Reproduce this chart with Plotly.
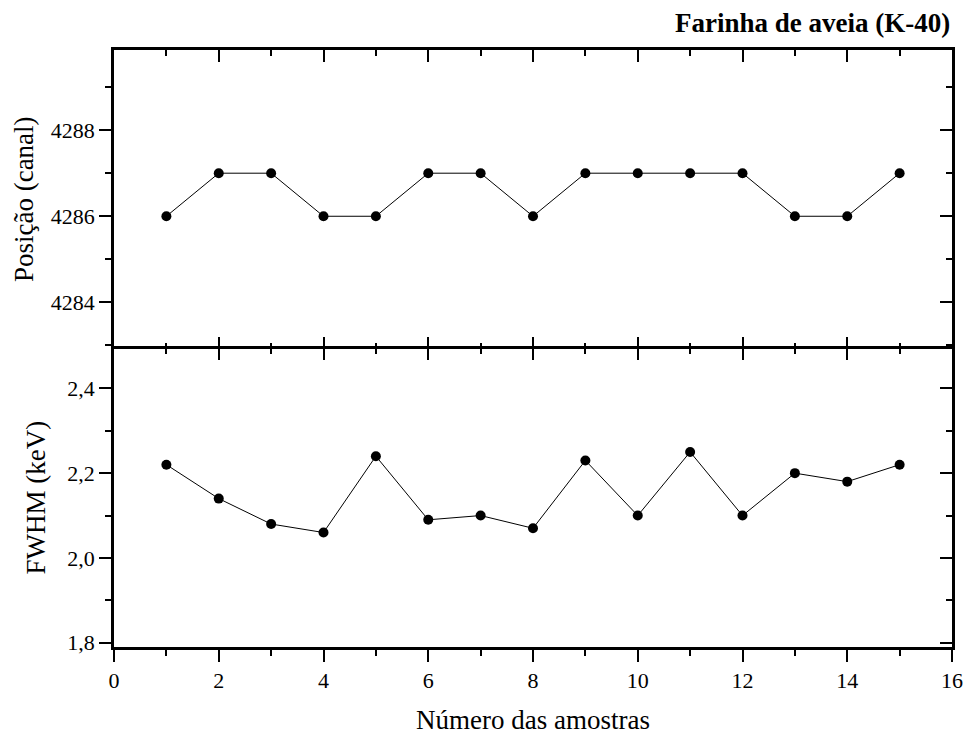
import plotly.graph_objects as go

# Sample numbers and measured values
amostras = list(range(1, 16))
posicao = [4286, 4287, 4287, 4286, 4286, 4287, 4287, 4286, 4287, 4287, 4287, 4287, 4286, 4286, 4287]
fwhm = [2.22, 2.14, 2.08, 2.06, 2.24, 2.09, 2.10, 2.07, 2.23, 2.10, 2.25, 2.10, 2.20, 2.18, 2.22]

titulo = "Farinha de aveia (K-40)"
rotulo_x = "Número das amostras"
rotulo_pos = "Posição (canal)"
rotulo_fwhm = "FWHM (keV)"

x_range = [0, 16]
pos_range = [4282.93, 4289.86]
fwhm_range = [1.79, 2.494]

FONT = "Liberation Serif"
BLACK = "black"

fig = go.Figure()

line_style = dict(color=BLACK, width=1)
marker_style = dict(color=BLACK, size=10, symbol="circle")

# bottom panel: FWHM
fig.add_trace(go.Scatter(x=amostras, y=fwhm, mode="lines+markers",
                         line=line_style, marker=marker_style,
                         xaxis="x", yaxis="y", showlegend=False))
# top panel: peak position
fig.add_trace(go.Scatter(x=amostras, y=posicao, mode="lines+markers",
                         line=line_style, marker=marker_style,
                         xaxis="x2", yaxis="y2", showlegend=False))

# empty traces so the mirrored frame axes get drawn
for xa, ya in [("x3", "y2"), ("x4", "y"), ("x", "y3"), ("x2", "y4")]:
    fig.add_trace(go.Scatter(x=[], y=[], xaxis=xa, yaxis=ya, mode="markers",
                             showlegend=False, hoverinfo="skip"))

tickfont = dict(family=FONT, size=22, color=BLACK)
titlefont = dict(family=FONT, size=27, color=BLACK)

def axis_base(**kw):
    d = dict(showline=True, linecolor=BLACK, linewidth=2.5, showgrid=False,
             zeroline=False, tickcolor=BLACK, tickwidth=2, ticklen=12,
             tickfont=tickfont, fixedrange=True)
    d.update(kw)
    return d

def minor(direction, dtick):
    return dict(ticks=direction, ticklen=6, tickwidth=2, tickcolor=BLACK, dtick=dtick)

split = 0.5

fig.update_layout(
    width=975, height=742,
    margin=dict(l=114, r=18, t=50, b=89),
    paper_bgcolor="white", plot_bgcolor="white",
    separators=",.",
    font=dict(family=FONT, color=BLACK),
    # bottom panel axes
    xaxis=axis_base(domain=[0, 1], anchor="y", range=x_range, ticks="outside",
                    tick0=0, dtick=2, minor=minor("outside", 1),
                    title=dict(text=rotulo_x, font=titlefont, standoff=18)),
    yaxis=axis_base(domain=[0, split], anchor="x", range=fwhm_range, ticks="outside",
                    tick0=1.8, dtick=0.2, tickformat=".1f", minor=minor("outside", 0.1),
                    title=dict(text=rotulo_fwhm, font=titlefont, standoff=14)),
    # top panel axes (shared border line is drawn by the lower panel)
    xaxis2=axis_base(domain=[0, 1], anchor="y2", range=x_range, ticks="inside",
                     showline=False, tick0=0, dtick=2, showticklabels=False,
                     minor=minor("inside", 1)),
    yaxis2=axis_base(domain=[split, 1], anchor="x2", range=pos_range, ticks="outside",
                     tick0=4284, dtick=2, tickformat="d", minor=minor("outside", 1),
                     title=dict(text=rotulo_pos, font=titlefont, standoff=10)),
    # mirrored frame sides with inward ticks
    xaxis3=axis_base(overlaying="x2", anchor="y2", side="top", range=x_range,
                     ticks="inside", tick0=0, dtick=2, showticklabels=False,
                     minor=minor("inside", 1)),
    xaxis4=axis_base(overlaying="x", anchor="y", side="top", range=x_range,
                     ticks="inside", tick0=0, dtick=2, showticklabels=False,
                     minor=minor("inside", 1)),
    yaxis3=axis_base(overlaying="y", anchor="x", side="right", range=fwhm_range,
                     ticks="inside", tick0=1.8, dtick=0.2, showticklabels=False,
                     minor=minor("inside", 0.1)),
    yaxis4=axis_base(overlaying="y2", anchor="x2", side="right", range=pos_range,
                     ticks="inside", tick0=4284, dtick=2, showticklabels=False,
                     minor=minor("inside", 1)),
    annotations=[dict(text="<b>" + titulo + "</b>", x=1, y=1, xref="paper", yref="paper",
                      xanchor="right", yanchor="bottom", yshift=10, showarrow=False,
                      font=dict(family=FONT, size=27, color=BLACK))],
)

fig.write_html("out.html")
